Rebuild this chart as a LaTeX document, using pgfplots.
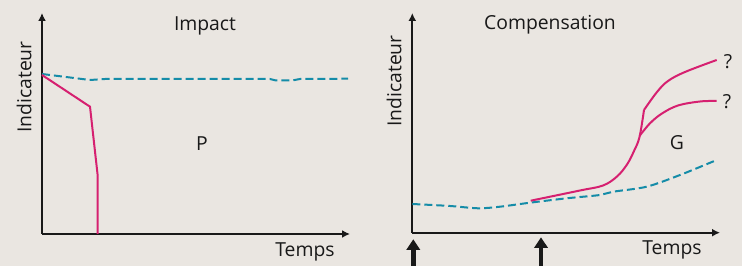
\documentclass[border=0pt]{standalone}
\usepackage{pgfplots}
\pgfplotsset{compat=1.18}
\usepackage{fontspec}
\setmainfont{Open Sans}
\usetikzlibrary{arrows.meta}
\definecolor{bg}{RGB}{234,230,225}
\definecolor{mag}{RGB}{214,32,112}
\definecolor{teal}{RGB}{21,140,168}
\begin{document}
\begin{tikzpicture}[x=0.75pt,y=0.75pt]
\fill[bg] (0,0) rectangle (742,266);
\useasboundingbox (0,0) rectangle (742,266);
\pgfplotsset{
  myax/.style={
    scale only axis, x=0.75pt, y=0.75pt, anchor=south west,
    axis lines=left, xtick=\empty, ytick=\empty, clip=false,
    axis line style={line width=1.5pt, draw=black!90, -{Latex[length=6pt,width=6pt]}},
  },
  blued/.style={teal, line width=1.5pt, dash pattern=on 6pt off 3pt},
  magl/.style={mag, line width=1.5pt},
}
% Left panel
\begin{axis}[myax, xmin=42, xmax=350, ymin=32, ymax=253, at={(31.5pt,24pt)}]
\addplot[blued] coordinates {(42,192) (90,186) (105,187) (270,187) (276,185.5) (292,185.5) (300,187) (348,187.3)};
\addplot[magl] coordinates {(42,191) (90,159.3) (97.7,90.3) (97.7,32)};
\end{axis}
% Right panel
\begin{axis}[myax, xmin=412.3, xmax=720, ymin=33.3, ymax=253, at={(309.225pt,24.975pt)}]
\addplot[blued, smooth, tension=0.5] coordinates {(412.3,62) (450,60) (478.3,57.7) (500,59.3) (530,63.3) (566.7,67.7) (600,71) (613.3,74.3) (646.7,79.3) (680,91) (716.7,106)};
\addplot[magl, smooth, tension=0.6] coordinates {(530.7,65.3) (580,75.5) (603,80.5) (617,89.5) (627,101.5) (634,115) (639.5,129) (644,156)};
\addplot[magl, smooth, tension=0.6] coordinates {(644,156) (657,174) (668,185) (685,194) (716.7,206)};
\addplot[magl, smooth, tension=0.6] coordinates {(639.5,130) (650,142.7) (662,152.5) (678,160.5) (700,164.5) (716.7,165)};
\end{axis}
% texts
\tikzset{lbl/.style={font=\fontsize{14.5pt}{16pt}\selectfont, text=black!90, inner sep=0pt}}
\node[lbl] at (205,240) {Impact};
\node[lbl] at (202,122) {P};
\node[lbl] at (305,14) {Temps};
\node[lbl, rotate=90] at (24,179) {Indicateur};
\node[lbl] at (550,241) {Compensation};
\node[lbl] at (677,123) {G};
\node[lbl] at (672,16) {Temps};
\node[lbl] at (728,204) {?};
\node[lbl] at (727,164) {?};
\node[lbl, rotate=90] at (394,185) {Indicateur};
% arrows at bottom
\draw[line width=3.5pt, black!90, -{Triangle[length=8pt,width=10pt]}] (413.3,-2) -- (413.3,26.7);
\draw[line width=3.5pt, black!90, -{Triangle[length=8pt,width=10pt]}] (541,-2) -- (541,28.7);
\end{tikzpicture}
\end{document}
